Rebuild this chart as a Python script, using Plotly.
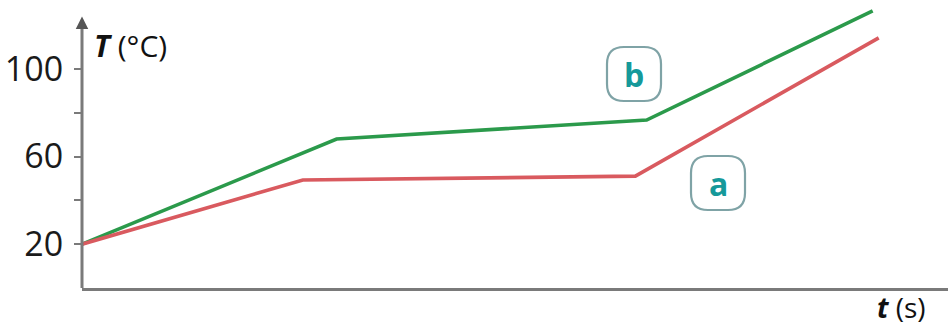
import plotly.graph_objects as go

# data (t in arbitrary units, T in °C)
t_b = [0, 29.4, 65.2, 91.3]
T_b = [20, 68.0, 76.7, 126.5]
t_a = [0, 25.5, 63.9, 92.0]
T_a = [20, 49.3, 51.1, 114.2]
y_tickvals = [20, 40, 60, 80, 100]
y_ticktext = ["20", "", "60", "", "100"]

W, H = 948, 325
ML, MR, MT, MB = 82, 0, 0, 37
X_RANGE = [0, 100]
Y_RANGE = [0, 131.5]
PW, PH = W - ML - MR, H - MT - MB

GREEN = "#2b9a4b"
RED = "#d95a5f"
TEAL = "#16999a"
AXIS = "#7a7a7a"

fig = go.Figure()
fig.add_trace(go.Scatter(x=t_b, y=T_b, mode="lines", line=dict(color=GREEN, width=3.6), showlegend=False, hoverinfo="skip"))
fig.add_trace(go.Scatter(x=t_a, y=T_a, mode="lines", line=dict(color=RED, width=3.6), showlegend=False, hoverinfo="skip"))


def to_paper(px, py):
    return (px - ML) / PW, (H - MB - py) / PH


def rounded_box(cx, cy, w, h, r):
    x0, x1 = cx - w / 2, cx + w / 2
    y0, y1 = cy - h / 2, cy + h / 2
    def P(px, py):
        a, b = to_paper(px, py)
        return f"{a:.5f},{b:.5f}"
    path = (f"M {P(x0 + r, y0)} L {P(x1 - r, y0)} Q {P(x1, y0)} {P(x1, y0 + r)} "
            f"L {P(x1, y1 - r)} Q {P(x1, y1)} {P(x1 - r, y1)} "
            f"L {P(x0 + r, y1)} Q {P(x0, y1)} {P(x0, y1 - r)} "
            f"L {P(x0, y0 + r)} Q {P(x0, y0)} {P(x0 + r, y0)} Z")
    return dict(type="path", xref="paper", yref="paper", path=path,
                line=dict(color="#7fa3a6", width=2.2), fillcolor="rgba(255,255,255,0)")


labels = [("b", 634, 74), ("a", 718, 183)]
shapes = []
annotations = []
for txt, cx, cy in labels:
    shapes.append(rounded_box(cx, cy, 54, 54, 17))
    ax_, ay_ = to_paper(cx, cy)
    annotations.append(dict(x=ax_, y=ay_, xref="paper", yref="paper", text=f"<b>{txt}</b>",
                            showarrow=False, font=dict(family="Open Sans", size=32, color=TEAL),
                            xanchor="center", yanchor="middle"))

# y axis line with arrow
shapes.append(dict(type="line", xref="paper", yref="y", x0=0, x1=0, y0=0, y1=122,
                   line=dict(color=AXIS, width=3)))
annotations.append(dict(x=0, y=124, xref="paper", yref="y", ax=0, ay=14, axref="pixel", ayref="pixel",
                        showarrow=True, arrowhead=2, arrowsize=1, arrowwidth=2.5, arrowcolor="#555", text=""))

# axis titles
annotations.append(dict(x=to_paper(92, 0)[0], y=to_paper(0, 45)[1], xref="paper", yref="paper",
                        text="<b><i>T</i></b> (°C)", showarrow=False, xanchor="left", yanchor="middle",
                        font=dict(family="Open Sans", size=30, color="#111")))
annotations.append(dict(x=to_paper(928, 0)[0], y=to_paper(0, 307)[1], xref="paper", yref="paper",
                        text="<b><i>t</i></b> (s)", showarrow=False, xanchor="right", yanchor="middle",
                        font=dict(family="Open Sans", size=28, color="#111")))

fig.update_layout(
    width=W, height=H,
    margin=dict(l=ML, r=MR, t=MT, b=MB),
    paper_bgcolor="white", plot_bgcolor="white",
    shapes=shapes, annotations=annotations,
    xaxis=dict(range=X_RANGE, showgrid=False, zeroline=False, showticklabels=False, ticks="",
               showline=True, linecolor=AXIS, linewidth=3, fixedrange=True),
    yaxis=dict(range=Y_RANGE, showgrid=False, zeroline=False, showline=False,
               tickmode="array", tickvals=y_tickvals, ticktext=y_ticktext,
               ticks="outside", ticklen=7, tickwidth=2, tickcolor=AXIS,
               ticklabelstandoff=4,
               tickfont=dict(family="Open Sans", size=34, color="#1a1a1a"), fixedrange=True),
)

fig.write_html("out.html")
